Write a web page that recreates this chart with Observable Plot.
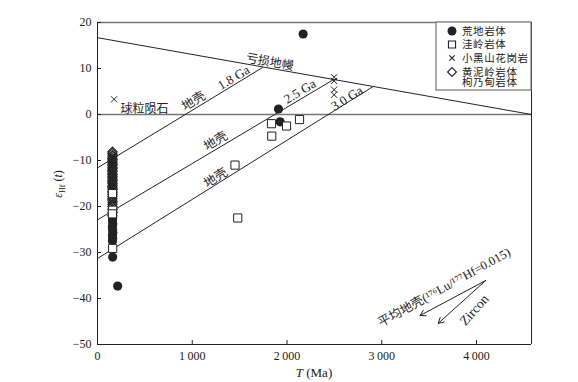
<!DOCTYPE html>
<html><head><meta charset="utf-8">
<script src="https://cdn.jsdelivr.net/npm/d3@7"></script>
<script src="https://cdn.jsdelivr.net/npm/@observablehq/plot@0.6"></script>
<style>
body{margin:0;background:#fff}
#chart{position:relative;width:578px;height:382px}
</style>
</head><body><div id="chart"></div>
<script>
// ---- ticks ----
const xTicks = [0, 1000, 2000, 3000, 4000];
const yTicks = [-50, -40, -30, -20, -10, 0, 10, 20];

// ---- series: T (Ma) and εHf(t) ----
const huangdiT = [160, 158, 161, 157, 159, 162, 158, 160, 158, 160, 213, 2170, 1910, 1927];
const huangdiE = [-22.4, -23.1, -23.8, -24.4, -25.0, -25.7, -26.3, -26.9, -27.5, -31.0, -37.3, 17.5, 1.2, -1.6];

const walingT = [1836, 1839, 1995, 2132, 1451, 1480, 158, 160, 157, 160];
const walingE = [-2.0, -4.7, -2.5, -1.1, -11.0, -22.5, -17.2, -20.8, -21.6, -29.1];

const xiaoheishanT = [2497, 2497, 2497, 2497];
const xiaoheishanE = [8.1, 7.3, 5.4, 4.3];

const huangnilingT = [158, 157, 159, 158, 156, 159, 157, 158, 160, 156, 158, 159, 157, 158, 156, 159, 158, 157, 159, 158,
                      157, 158, 159, 156, 158, 160, 157, 158, 159, 157, 158, 156, 159, 158, 157, 158, 159, 157];
const huangnilingE = [-8.1, -8.4, -8.8, -9.1, -9.5, -9.8, -10.1, -10.5, -10.8, -11.1, -11.5, -11.8, -12.1, -12.4, -12.8, -13.1, -13.4, -13.7, -14.1, -14.4,
                      -14.7, -15.0, -15.4, -15.7, -16.0, -16.3, -16.7, -17.0, -17.4, -17.8, -18.2, -18.6, -19.0, -19.5, -20.0, -20.6, -21.3, -22.0];

const chondriteT = [175];
const chondriteE = [3.3];

// ---- reference lines (endpoints) ----
const mantleT = [0, 4580],  mantleE = [16.7, 0];
const crust18T = [0, 1741], crust18E = [-11.6, 10.2];
const crust25T = [0, 2492], crust25E = [-22.9, 7.6];
const crust30T = [0, 2910], crust30E = [-31.3, 6.1];

// ---- annotations ----
const noteText = ["亏损地幔", "1.8 Ga", "地壳", "2.5 Ga", "地壳", "3.0 Ga", "地壳", "球粒陨石", "平均地壳(¹⁷⁶Lu/¹⁷⁷Hf=0.015)", "Zircon"];
const noteT    = [1818, 1437, 1014, 2136, 1247, 2633, 1247, 496, 3659, 3976];
const noteE    = [11.4, 8.0, 2.9, 5.0, -5.8, 3.5, -13.8, 1.2, -37.6, -42.5];
const noteRot  = [10, -31, -31, -31, -31, -32, -32, 0, -29, -48];
const noteSize = [12, 13, 12.5, 13, 12.5, 13, 12.5, 12, 12.5, 13.5];

const arrowT1 = [4096, 4096], arrowE1 = [-36.1, -36.1];
const arrowT2 = [3404, 3596], arrowE2 = [-43.7, -45.4];

// ---- legend ----
const legendNames = ["荒地岩体", "洼岭岩体", "小黑山花岗岩", "黄泥岭岩体\n枸乃甸岩体"];
const legendSymbols = ["circle", "square", "times", "diamond2"];

const pts = (T, E) => T.map((t, i) => ({t, e: E[i]}));
const notes = noteText.map((s, i) => ({s, t: noteT[i], e: noteE[i], r: noteRot[i], fs: noteSize[i]}));
const arrows = arrowT1.map((t, i) => ({x1: t, y1: arrowE1[i], x2: arrowT2[i], y2: arrowE2[i]}));

const ink = "#222";
const font = "'Liberation Serif','Noto Sans CJK SC',serif";

const plot = Plot.plot({
  width: 578, height: 382,
  marginLeft: 97, marginRight: 47, marginTop: 22, marginBottom: 38,
  style: {fontFamily: font, fontSize: "12px", color: ink, background: "#fff"},
  x: {domain: [0, 4580], label: null},
  y: {domain: [-50, 20], label: null},
  marks: [
    Plot.ruleY([20, 0], {stroke: "#777", strokeWidth: 1.3}),
    Plot.ruleX([4580], {stroke: ink}),
    Plot.ruleX([0], {stroke: ink}),
    Plot.ruleY([-50], {stroke: ink}),
    Plot.axisX({ticks: xTicks, tickSize: -4, tickPadding: 11, stroke: ink, fill: ink, fontSize: 12,
      tickFormat: d => d === 0 ? "0" : d3.format(",")(d).replace(",", "\u2009")}),
    Plot.axisY({ticks: yTicks, tickSize: -4, tickPadding: 10, stroke: ink, fill: ink, fontSize: 12}),
    Plot.line(pts(mantleT, mantleE), {x: "t", y: "e", stroke: ink, strokeWidth: 1}),
    Plot.line(pts(crust18T, crust18E), {x: "t", y: "e", stroke: ink, strokeWidth: 1}),
    Plot.line(pts(crust25T, crust25E), {x: "t", y: "e", stroke: ink, strokeWidth: 1}),
    Plot.line(pts(crust30T, crust30E), {x: "t", y: "e", stroke: ink, strokeWidth: 1}),
    Plot.dot(pts(huangnilingT, huangnilingE), {x: "t", y: "e", symbol: "diamond2", r: 4.2, stroke: ink, fill: "none", strokeWidth: 1.1}),
    Plot.dot(pts(huangdiT, huangdiE), {x: "t", y: "e", symbol: "circle", r: 4.6, fill: ink, stroke: "none"}),
    Plot.dot(pts(walingT, walingE), {x: "t", y: "e", symbol: "square", r: 4.6, fill: "#fff", stroke: ink, strokeWidth: 1}),
    Plot.dot(pts(xiaoheishanT, xiaoheishanE), {x: "t", y: "e", symbol: "times", r: 2.9, stroke: ink, strokeWidth: 1}),
    Plot.dot(pts(chondriteT, chondriteE), {x: "t", y: "e", symbol: "times", r: 2.9, stroke: ink, strokeWidth: 1}),
    ...notes.map(n => Plot.text([n], {x: "t", y: "e", text: "s", rotate: n.r, fontSize: n.fs, fill: ink, textAnchor: "middle", lineAnchor: "middle"})),
    Plot.arrow(arrows, {x1: "x1", y1: "y1", x2: "x2", y2: "y2", stroke: ink, strokeWidth: 1, headLength: 9, bend: 0})
  ]
});

document.getElementById("chart").appendChild(plot);
const svg = d3.select(plot);

// y-axis label  εHf (t)
const yl = svg.append("text").attr("transform", "translate(62,184) rotate(-90)")
  .attr("text-anchor", "middle").attr("font-size", 12).attr("fill", ink).attr("font-family", font);
yl.append("tspan").attr("font-style", "italic").text("ε");
yl.append("tspan").attr("font-size", 8).attr("dy", 3).text("Hf");
yl.append("tspan").attr("dy", -3).text(" (");
yl.append("tspan").attr("font-style", "italic").text("t");
yl.append("tspan").text(")");

// x-axis label  T (Ma)
const xl = svg.append("text").attr("x", 314).attr("y", 377).attr("text-anchor", "middle")
  .attr("font-size", 13).attr("fill", ink).attr("font-family", font);
xl.append("tspan").attr("font-style", "italic").text("T");
xl.append("tspan").text(" (Ma)");

// legend box
const lg = svg.append("g").attr("font-family", font).attr("font-size", 10.5).attr("fill", ink)
  .attr("text-anchor", "start");
lg.append("rect").attr("x", 436).attr("y", 22).attr("width", 95).attr("height", 68)
  .attr("fill", "#fff").attr("stroke", "#777").attr("stroke-width", 1.2);
const rowY = [31, 44.5, 58, 72];
legendSymbols.forEach((s, i) => {
  const sym = {circle: d3.symbolCircle, square: d3.symbolSquare, times: d3.symbolTimes, diamond2: d3.symbolDiamond2}[s];
  const size = s === "circle" ? Math.PI * 4.5 * 4.5 : s === "times" ? Math.PI * 2.6 * 2.6 : Math.PI * 4.0 * 4.0;
  lg.append("path").attr("d", d3.symbol(sym, size)())
    .attr("transform", `translate(452,${rowY[i]})`)
    .attr("fill", s === "circle" ? ink : s === "times" ? "none" : "#fff")
    .attr("stroke", s === "circle" ? "none" : ink).attr("stroke-width", 1.1);
  legendNames[i].split("\n").forEach((line, j) => {
    lg.append("text").attr("x", 462).attr("y", rowY[i] + j * 10.5).attr("dy", "0.35em")
      .attr("text-anchor", "start").attr("letter-spacing", 0.6).text(line);
  });
});
</script>
</body></html>
